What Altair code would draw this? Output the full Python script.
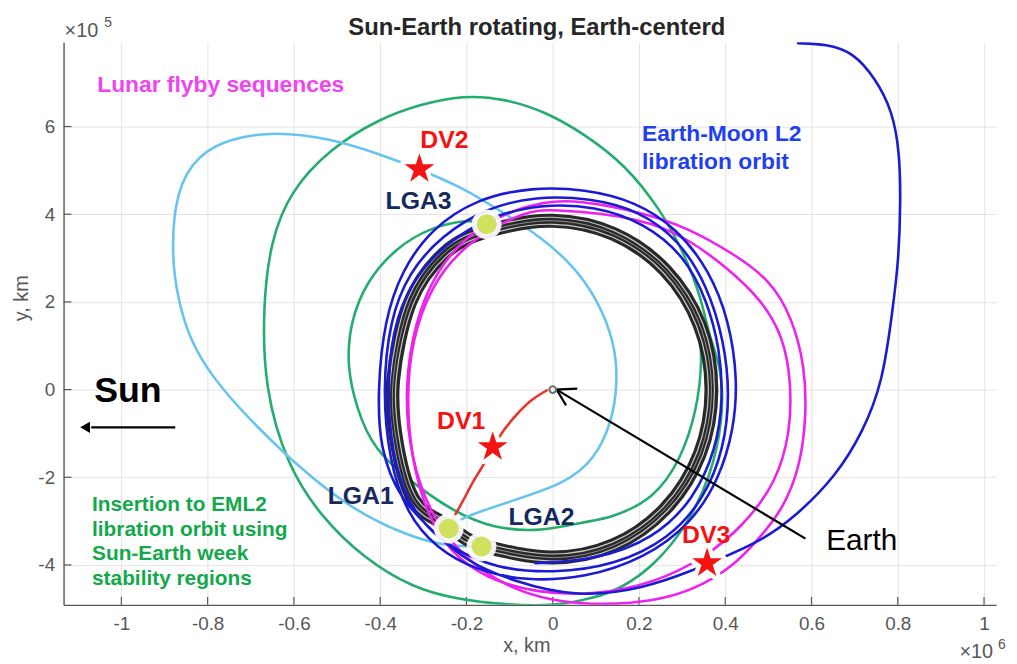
import altair as alt
import pandas as pd

# ---------------- data (x and y in units of 1e5 km) ----------------
# lunar orbit band (black ring): centre line and two neighbouring strands
ring_x = [3.68, 3.41, 2.61, 1.41, 0.00, -1.48, -2.50, -3.30, -3.70, -3.60, -3.20, -2.40, -1.65, 0.00, 1.41, 2.61, 3.41]
ring_y = [0.00, 1.47, 2.72, 3.55, 3.85, 3.62, 3.12, 2.00, 0.20, -1.30, -2.55, -3.12, -3.55, -3.83, -3.55, -2.72, -1.47]
ring_out_x = [3.75, 3.48, 2.66, 1.44, 0.00, -1.51, -2.55, -3.37, -3.77, -3.67, -3.26, -2.45, -1.68, 0.00, 1.44, 2.66, 3.48]
ring_out_y = [0.00, 1.50, 2.77, 3.62, 3.93, 3.69, 3.18, 2.04, 0.20, -1.33, -2.60, -3.18, -3.62, -3.91, -3.62, -2.77, -1.50]
ring_in_x = [3.61, 3.34, 2.56, 1.38, 0.00, -1.45, -2.45, -3.23, -3.63, -3.53, -3.14, -2.35, -1.62, 0.00, 1.38, 2.56, 3.34]
ring_in_y = [0.00, 1.44, 2.67, 3.48, 3.77, 3.55, 3.06, 1.96, 0.20, -1.27, -2.50, -3.06, -3.48, -3.75, -3.48, -2.67, -1.44]

# Earth-Moon L2 libration orbit (blue)
blue_x = [5.69, 6.34, 6.96, 7.49, 7.88, 8.04, 8.07, 8.02, 7.88, 7.65, 7.19, 6.57, 5.65, 4.82, 3.90, 3.21, 2.13, 0.59,
          -0.93, -2.01, -2.77, -3.55, -4.01, -4.06, -3.90, -3.50, -2.81, -1.78, -0.47, 0.75, 1.90, 2.89, 3.63, 4.09, 4.29, 4.20, 3.86, 3.21, 2.13, 0.75,
          -0.63, -1.78, -2.70, -3.39, -3.80, -3.94, -3.78, -3.34, -2.58, -1.55, -0.40, 0.87, 2.02, 2.94, 3.58, 3.97, 4.11, 3.97, 3.51, 2.71, 1.44, 0.00,
          -1.32, -2.36, -3.16, -3.67, -3.85, -3.73, -3.27, -2.47, -1.43, -0.28, 0.98, 2.13, 3.05, 3.58, 3.88, 3.95, 3.79, 3.28, 2.36, 0.98, -0.40]
blue_y = [7.90, 7.88, 7.70, 7.09, 6.34, 5.43, 4.30, 2.94, 1.81, 0.16, -0.97, -1.97, -2.88, -3.46, -3.85, -4.14, -4.53, -4.75,
          -4.37, -3.92, -3.24, -2.49, -1.36, 0.00, 1.58, 2.72, 3.67, 4.35, 4.62, 4.57, 4.30, 3.67, 2.72, 1.58, 0.23, -0.91, -2.04, -3.06, -3.85, -4.30,
          -4.37, -4.12, -3.62, -2.83, -1.58, 0.00, 1.58, 2.67, 3.51, 4.14, 4.41, 4.37, 4.08, 3.40, 2.38, 1.13, -0.11, -1.36, -2.49, -3.40, -4.01, -4.19,
          -4.08, -3.62, -2.94, -1.81, -0.23, 1.36, 2.49, 3.35, 3.96, 4.23, 4.19, 3.80, 3.06, 2.04, 0.91, -0.23, -1.36, -2.49, -3.40, -3.89, -3.96]

# lunar flyby sequences (magenta), closed loops
mag1_x = [-0.17, 0.60, 2.13, 3.10, 4.20, 5.05, 5.55, 5.85, 5.88, 5.74, 5.35, 4.73, 4.20, 3.50, 2.70, 1.80, 0.90, 0.00, -0.95, -1.95, -2.80, -3.30, -3.44, -3.20, -2.70, -2.05, -1.20]
mag1_y = [4.30, 4.32, 4.03, 3.70, 3.10, 2.49, 1.65, 0.52, -0.61, -1.74, -2.72, -3.46, -4.01, -4.45, -4.75, -4.88, -4.90, -4.82, -4.55, -3.95, -2.95, -1.55, 0.00, 1.55, 2.70, 3.45, 4.00]
mag2_x = [-0.17, 2.13, 3.20, 4.04, 4.85, 5.35, 5.53, 5.51, 5.19, 4.43, 3.51, 2.36, 0.98, -0.40, -1.55, -2.36, -2.93, -3.27, -3.39, -3.27, -2.81, -2.12, -1.32, -0.63]
mag2_y = [4.14, 3.92, 3.40, 2.78, 2.04, 1.20, 0.16, -0.97, -2.11, -3.10, -3.85, -4.41, -4.69, -4.64, -4.30, -3.74, -2.83, -1.58, -0.23, 1.13, 2.38, 3.21, 3.74, 4.03]

# transfer after LGA1 (cyan)
cyan_x = [-1.64, -2.54, -3.62, -4.77, -5.92, -6.84, -7.49, -8.04, -8.45, -8.68, -8.84, -8.75, -8.22, -7.46, -6.45, -5.16, -4.01, -3.09, -2.08, -1.32, -0.47, 0.45, 1.05, 1.44, 1.51, 1.37, 0.98, 0.29, -1.02, -2.17, -2.41]
cyan_y = [-3.58, -3.58, -3.24, -2.65, -1.74, -0.86, -0.18, 0.50, 1.25, 2.04, 3.01, 4.53, 5.37, 5.73, 5.89, 5.73, 5.37, 5.03, 4.60, 4.14, 3.62, 2.88, 2.04, 1.06, 0.16, -0.75, -1.58, -2.15, -2.56, -2.94, -3.17]

# insertion through Sun-Earth weak stability regions (green); outer one is a closed loop
gout_x = [0.06, 0.98, 1.60, 2.36, 3.12, 3.67, 3.95, 3.93, 3.63, 3.44, 3.05, 2.52, 1.67, 0.75, -0.17, -1.09, -2.08, -3.09, -4.01, -5.16, -6.08, -6.54, -6.72, -6.68, -6.15, -5.39, -4.38, -3.23, -2.24, -1.09]
gout_y = [-4.94, -4.75, -4.53, -4.01, -3.10, -1.97, -0.68, 0.45, 1.20, 2.11, 3.10, 4.08, 5.14, 5.82, 6.34, 6.63, 6.72, 6.50, 6.18, 5.50, 4.53, 3.40, 1.88, 0.00, -1.74, -2.88, -3.85, -4.53, -4.78, -4.91]
gin_x = [-1.55, -1.94, -2.86, -3.62, -4.31, -4.70, -4.77, -4.54, -4.15, -3.32, -2.31, -1.39, -0.24, 0.75, 1.33, 2.36, 2.98, 3.35, 3.47, 3.40]
gin_y = [3.78, 3.89, 3.69, 3.24, 2.49, 1.52, 0.52, -0.45, -1.36, -2.08, -2.78, -3.17, -3.24, -3.01, -2.94, -2.49, -1.58, -0.45, 0.68, 1.47]

# launch leg with DV1 (red)
red_x = [-0.14, -0.51, -0.90, -1.25, -1.55, -1.82, -2.05, -2.31]
red_y = [-0.02, -0.23, -0.63, -1.06, -1.65, -2.04, -2.49, -2.94]

# events
dv_names = ["DV2", "DV1", "DV3"]
dv_x = [-3.09, -1.39, 3.58]
dv_y = [5.03, -1.31, -3.96]
dv_lab_x = [-2.51, -2.12, 3.56]
dv_lab_y = [5.50, -0.91, -3.51]

lga_names = ["LGA3", "LGA1", "LGA2"]
lga_x = [-1.53, -2.41, -1.65]
lga_y = [3.77, -3.17, -3.58]
lga_lab_x = [-3.11, -4.45, -0.26]
lga_lab_y = [4.12, -2.60, -3.10]

earth_x = [0.0]
earth_y = [0.0]

# annotation arrows
earth_arrow_x = [5.86, 0.09]
earth_arrow_y = [-3.40, 0.00]
earth_head_x = [0.57, 0.09, 0.31]
earth_head_y = [0.02, 0.00, -0.36]
sun_arrow_x = [-8.75]
sun_arrow_x2 = [-10.70]
sun_arrow_y = [-0.86]
sun_head_x = [-10.84]

# annotation texts
flyby_text = ["Lunar flyby sequences"]
flyby_x = [-10.56]
flyby_y = [6.79]
l2_text = ["Earth-Moon L2", "libration orbit"]
l2_x = [2.07, 2.07]
l2_y = [5.66, 5.03]
ins_text = ["Insertion to EML2", "libration orbit using", "Sun-Earth week", "stability regions"]
ins_x = [-10.68, -10.68, -10.68, -10.68]
ins_y = [-2.76, -3.33, -3.89, -4.46]
earth_text = ["Earth"]
earth_text_x = [6.34]
earth_text_y = [-3.67]
sun_text = ["Sun"]
sun_text_x = [-10.63]
sun_text_y = [-0.29]

title_text = "Sun-Earth rotating, Earth-centerd"
x_title = "x, km"
y_title = "y, km"

x_tick_vals = [-10, -8, -6, -4, -2, 0, 2, 4, 6, 8, 10]
y_tick_vals = [-4, -2, 0, 2, 4, 6]
XDOM = [-11.34, 10.28]
YDOM = [-4.91, 7.92]

# ---------------- styling ----------------
FONT = "Liberation Sans"
C_CYAN = "#66c4ee"
C_GREEN = "#24ad6e"
C_BLUE = "#1b1bd3"
C_MAG = "#ee22ee"
C_RED_LINE = "#e8352c"
C_RED = "#f51212"
C_NAVY = "#15295e"
C_LGA = "#cfe15f"
AX = "#575757"
STAR = "M0,-1L0.225,-0.309L0.951,-0.309L0.363,0.118L0.588,0.809L0,0.382L-0.588,0.809L-0.363,0.118L-0.951,-0.309L-0.225,-0.309Z"

W, H = 940, 567

xscale = alt.Scale(domain=XDOM, nice=False, zero=False)
yscale = alt.Scale(domain=YDOM, nice=False, zero=False)
xaxis = alt.Axis(values=x_tick_vals, labelExpr="(datum.value/10) + ''", title=None, grid=True,
                 ticks=False, labelPadding=10, labelFlush=False, orient="bottom")
yaxis = alt.Axis(values=y_tick_vals, labelExpr="datum.value + ''", title=None, grid=True,
                 ticks=False, labelPadding=9, labelFlush=False, orient="left")


def X(f="x"):
    return alt.X(f"{f}:Q", scale=xscale, axis=xaxis)


def Y(f="y"):
    return alt.Y(f"{f}:Q", scale=yscale, axis=yaxis)


def path(xs, ys, name):
    return pd.DataFrame({"x": xs, "y": ys, "o": list(range(len(xs))), "s": [name] * len(xs)})


def line(df, color, width, interp="basis", opacity=1.0):
    return alt.Chart(df).mark_line(color=color, strokeWidth=width, interpolate=interp, clip=True,
                                   opacity=opacity, strokeCap="round", strokeJoin="round").encode(
        x=X(), y=Y(), order="o:Q", detail="s:N")


def pts(xs, ys, **kw):
    return pd.DataFrame({"x": xs, "y": ys, **kw})


layers = []

# inner tick marks (MATLAB style)
layers.append(alt.Chart(pd.DataFrame({"x": x_tick_vals})).mark_rule(color=AX, strokeWidth=1.2).encode(
    x=X(), y=alt.value(H - 8), y2=alt.value(H)))
layers.append(alt.Chart(pd.DataFrame({"y": y_tick_vals})).mark_rule(color=AX, strokeWidth=1.2).encode(
    y=Y(), x=alt.value(0), x2=alt.value(8)))

# trajectories
layers.append(line(path(gout_x, gout_y, "gout"), C_GREEN, 2.6, interp="basis-closed"))
layers.append(line(path(gin_x, gin_y, "gin"), C_GREEN, 2.6))
layers.append(line(path(cyan_x, cyan_y, "cyan"), C_CYAN, 2.6))
layers.append(line(path(ring_x, ring_y, "ring"), "#1d1d1d", 14, interp="cardinal-closed", opacity=0.95))
layers.append(line(path(ring_x, ring_y, "ringm"), "#9a9a9a", 1.0, interp="cardinal-closed", opacity=0.9))
layers.append(line(pd.concat([path(ring_out_x, ring_out_y, "ro"), path(ring_in_x, ring_in_y, "ri")]),
                   "#ffffff", 1.2, interp="cardinal-closed", opacity=0.75))
layers.append(line(pd.concat([path(mag1_x, mag1_y, "m1"), path(mag2_x, mag2_y, "m2")]), C_MAG, 2.6,
                   interp="basis-closed"))
layers.append(line(path(blue_x, blue_y, "blue"), C_BLUE, 2.6))
layers.append(line(path(red_x, red_y, "red"), C_RED_LINE, 2.6))

# Earth arrow
layers.append(alt.Chart(pd.concat([path(earth_arrow_x, earth_arrow_y, "a"), path(earth_head_x, earth_head_y, "h")]))
              .mark_line(color="black", strokeWidth=2.2).encode(x=X(), y=Y(), order="o:Q", detail="s:N"))
# Sun arrow
layers.append(alt.Chart(pd.DataFrame({"x": sun_arrow_x, "x2": sun_arrow_x2, "y": sun_arrow_y}))
              .mark_rule(color="black", strokeWidth=2.2).encode(x=X(), x2=alt.X2("x2:Q"), y=Y()))
layers.append(alt.Chart(pts(sun_head_x, sun_arrow_y)).mark_point(shape="triangle-left", filled=True, color="black",
                                                                  size=130, opacity=1).encode(x=X(), y=Y()))

# Earth marker
layers.append(alt.Chart(pts(earth_x, earth_y)).mark_point(shape="circle", filled=False, color="#707070", size=45,
                                                          strokeWidth=2, opacity=1).encode(x=X(), y=Y()))

# halos
layers.append(alt.Chart(pts(lga_x, lga_y)).mark_point(shape="circle", filled=True, color="white", stroke="white",
                                                      strokeWidth=10, size=400, opacity=0.92).encode(x=X(), y=Y()))
layers.append(alt.Chart(pts(dv_x, dv_y)).mark_point(shape=STAR, filled=True, color="white", stroke="white",
                                                    strokeWidth=9, strokeJoin="round", size=1000, opacity=1).encode(x=X(), y=Y()))
# LGA points and DV stars
layers.append(alt.Chart(pts(lga_x, lga_y)).mark_point(shape="circle", filled=True, color=C_LGA, size=400,
                                                      strokeWidth=0, opacity=1).encode(x=X(), y=Y()))
layers.append(alt.Chart(pts(dv_x, dv_y)).mark_point(shape=STAR, filled=True, color=C_RED, size=1000,
                                                    strokeWidth=0, opacity=1).encode(x=X(), y=Y()))


def texts(xs, ys, labels, **kw):
    return alt.Chart(pd.DataFrame({"x": xs, "y": ys, "t": labels})).mark_text(
        font=FONT, baseline="alphabetic", **kw).encode(x=X(), y=Y(), text="t:N")


layers.append(texts(dv_lab_x, dv_lab_y, dv_names, fontSize=25, fontWeight="bold", color=C_RED, align="center"))
layers.append(texts(lga_lab_x, lga_lab_y, lga_names, fontSize=25, fontWeight="bold", color=C_NAVY, align="center"))
layers.append(texts(flyby_x, flyby_y, flyby_text, fontSize=23, fontWeight="bold", color="#ef45ef", align="left"))
layers.append(texts(l2_x, l2_y, l2_text, fontSize=23, fontWeight="bold", color="#1f3ff2", align="left"))
layers.append(texts(ins_x, ins_y, ins_text, fontSize=21, fontWeight="bold", color="#13a84c", align="left"))
layers.append(texts(earth_text_x, earth_text_y, earth_text, fontSize=30, color="black", align="left"))
layers.append(texts(sun_text_x, sun_text_y, sun_text, fontSize=36, fontWeight="bold", color="black", align="left"))


def ptext(label, px, py, **kw):
    return alt.Chart(pd.DataFrame({"t": [label]})).mark_text(font=FONT, **kw).encode(
        x=alt.value(px), y=alt.value(py), text="t:N")


layers.append(ptext(title_text, 477, -7, fontSize=24, fontWeight="bold", color="#262626", align="center",
                    baseline="alphabetic"))
layers.append(ptext("\u00d710", 1, -5, fontSize=20, color=AX, align="left", baseline="alphabetic"))
layers.append(ptext("5", 41, -15, fontSize=14, color=AX, align="left", baseline="alphabetic"))
layers.append(ptext("\u00d710", 903, H + 54, fontSize=20, color=AX, align="left", baseline="alphabetic"))
layers.append(ptext("6", 942, H + 44, fontSize=14, color=AX, align="left", baseline="alphabetic"))
layers.append(ptext(x_title, 467, H + 48, fontSize=20, color=AX, align="center", baseline="alphabetic"))
layers.append(ptext(y_title, -42, 258, fontSize=20, color=AX, align="center", baseline="middle", angle=270))

chart = alt.layer(*layers).properties(
    width=W, height=H,
    padding={"left": 56, "top": 32, "right": 13, "bottom": 57},
    autosize=alt.AutoSizeParams(type="none"),
    background="white",
).configure_view(stroke=None).configure_axis(
    labelFont=FONT, labelFontSize=19, labelColor=AX, domainColor=AX, domainWidth=1.4,
    gridColor="#e3e3e3", gridWidth=1,
)

chart.save("out.html", embed_options={"renderer": "svg", "actions": False})
